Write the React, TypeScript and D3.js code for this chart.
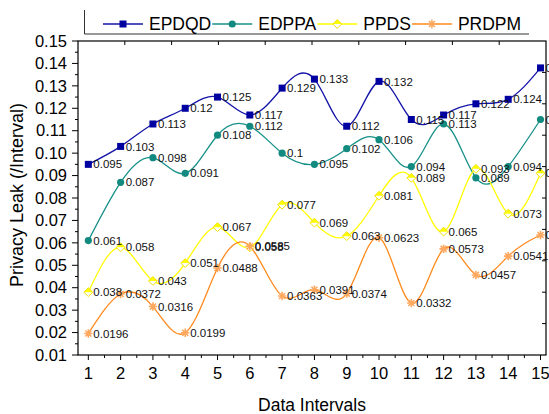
import { useEffect, useRef } from "react";
import * as d3 from "d3";

const intervals = [1, 2, 3, 4, 5, 6, 7, 8, 9, 10, 11, 12, 13, 14, 15];
const epdqd = [0.095, 0.103, 0.113, 0.12, 0.125, 0.117, 0.129, 0.133, 0.112, 0.132, 0.115, 0.117, 0.122, 0.124, 0.138];
const edppa = [0.061, 0.087, 0.098, 0.091, 0.108, 0.112, 0.1, 0.095, 0.102, 0.106, 0.094, 0.113, 0.089, 0.094, 0.115];
const ppds = [0.038, 0.058, 0.043, 0.051, 0.067, 0.058, 0.077, 0.069, 0.063, 0.081, 0.089, 0.065, 0.093, 0.073, 0.091];
const prdpm = [0.0196, 0.0372, 0.0316, 0.0199, 0.0488, 0.0585, 0.0363, 0.0391, 0.0374, 0.0623, 0.0332, 0.0573, 0.0457, 0.0541, 0.0635];
const seriesNames = ["EPDQD", "EDPPA", "PPDS", "PRDPM"];

const FONT = "Arial, 'Liberation Sans', sans-serif";

const series = [
  { name: seriesNames[0], values: epdqd, color: "#1414a8", fill: "#0000a0", shape: "square" },
  { name: seriesNames[1], values: edppa, color: "#179088", fill: "#138a80", shape: "circle" },
  { name: seriesNames[2], values: ppds, color: "#ffff00", fill: "#ffff00", shape: "diamond" },
  { name: seriesNames[3], values: prdpm, color: "#ff8a1c", fill: "#ffa860", shape: "star" },
];

const W = 549;
const H = 414;

function drawMarker(g: any, shape: string, cx: number, cy: number, fill: string) {
  if (shape === "square") {
    g.append("rect").attr("x", cx - 3.5).attr("y", cy - 3.5).attr("width", 7).attr("height", 7).attr("fill", fill);
  } else if (shape === "circle") {
    g.append("circle").attr("cx", cx).attr("cy", cy).attr("r", 3.6).attr("fill", fill);
  } else if (shape === "diamond") {
    const s = 4.4;
    g.append("path")
      .attr("d", `M${cx - s},${cy}L${cx},${cy - s}L${cx + s},${cy}L${cx},${cy + s}Z`)
      .attr("fill", "#fff");
    g.append("path")
      .attr("d", `M${cx - s},${cy}L${cx},${cy - s}L${cx + s},${cy}Z`)
      .attr("fill", fill);
    g.append("path")
      .attr("d", `M${cx - s},${cy}L${cx},${cy - s}L${cx + s},${cy}L${cx},${cy + s}Z`)
      .attr("fill", "none")
      .attr("stroke", "#f0e000")
      .attr("stroke-width", 1);
  } else {
    const s = 4.2;
    const d = s * 0.72;
    g.append("path")
      .attr("d", `M${cx - s},${cy}L${cx + s},${cy}M${cx},${cy - s}L${cx},${cy + s}M${cx - d},${cy - d}L${cx + d},${cy + d}M${cx - d},${cy + d}L${cx + d},${cy - d}`)
      .attr("stroke", fill)
      .attr("stroke-width", 1.6);
  }
}

export default function App() {
  const svgRef = useRef<SVGSVGElement>(null);

  useEffect(() => {
    const svg = d3.select(svgRef.current);
    svg.selectAll("*").remove();

    const left = 78;
    const right = 546;
    const top = 41;
    const bottom = 355;

    const x = d3.scaleLinear().domain([0.68, 15.17]).range([left, right]);
    const y = d3.scaleLinear().domain([0.01, 0.15]).range([bottom, top]);

    // frame
    svg.append("rect")
      .attr("x", left).attr("y", top)
      .attr("width", right - left).attr("height", bottom - top)
      .attr("fill", "none").attr("stroke", "#000").attr("stroke-width", 1.2);

    // y axis ticks
    const yMajor = y.ticks(14);
    const yMinor = y.ticks(28).filter((t) => !yMajor.some((m) => Math.abs(m - t) < 1e-9));
    const yAxis = svg.append("g");
    yMajor.forEach((t) => {
      yAxis.append("line").attr("x1", left - 6).attr("x2", left).attr("y1", y(t)).attr("y2", y(t)).attr("stroke", "#000");
      yAxis.append("text")
        .attr("x", left - 11).attr("y", y(t)).attr("dy", "0.35em")
        .attr("text-anchor", "end").attr("font-family", FONT).attr("font-size", 16.5)
        .text(d3.format(".2f")(t));
    });
    yMinor.forEach((t) => {
      yAxis.append("line").attr("x1", left - 3).attr("x2", left).attr("y1", y(t)).attr("y2", y(t)).attr("stroke", "#000");
    });

    // x axis ticks
    const xAxis = svg.append("g");
    intervals.forEach((t) => {
      xAxis.append("line").attr("x1", x(t)).attr("x2", x(t)).attr("y1", bottom).attr("y2", bottom + 5).attr("stroke", "#000");
      xAxis.append("text")
        .attr("x", x(t)).attr("y", bottom + 24)
        .attr("text-anchor", "middle").attr("font-family", FONT).attr("font-size", 16.5)
        .text(t);
    });
    d3.range(1.5, 15, 1).forEach((t) => {
      xAxis.append("line").attr("x1", x(t)).attr("x2", x(t)).attr("y1", bottom).attr("y2", bottom + 3).attr("stroke", "#000");
    });

    // top and right frame ticks
    const fr = d3.scaleLinear().domain([0, 10]);
    d3.range(1, 10).forEach((i) => {
      const tx = fr.range([left, right])(i);
      svg.append("line").attr("x1", tx).attr("x2", tx).attr("y1", top).attr("y2", top + 4).attr("stroke", "#000");
      const ty = fr.range([top, bottom])(i);
      svg.append("line").attr("x1", right - 4).attr("x2", right).attr("y1", ty).attr("y2", ty).attr("stroke", "#000");
    });

    // axis titles
    svg.append("text")
      .attr("x", (left + right) / 2).attr("y", 411)
      .attr("text-anchor", "middle").attr("font-family", FONT).attr("font-size", 17.5)
      .text("Data Intervals");
    svg.append("text")
      .attr("transform", `translate(23,${(top + bottom) / 2 - 3}) rotate(-90)`)
      .attr("text-anchor", "middle").attr("font-family", FONT).attr("font-size", 18)
      .text("Privacy Leak (/Interval)");

    // lines
    const line = d3.line<number>()
      .x((_, i) => x(intervals[i]))
      .y((d) => y(d))
      .curve(d3.curveNatural);

    const plot = svg.append("g");
    series.forEach((s) => {
      plot.append("path")
        .attr("d", line(s.values))
        .attr("fill", "none")
        .attr("stroke", s.color)
        .attr("stroke-width", 1.3);
    });
    series.forEach((s) => {
      const g = plot.append("g");
      s.values.forEach((v, i) => drawMarker(g, s.shape, x(intervals[i]), y(v), s.fill));
    });
    series.forEach((s) => {
      s.values.forEach((v, i) => {
        plot.append("text")
          .attr("x", x(intervals[i]) + 5).attr("y", y(v)).attr("dy", "0.36em")
          .attr("font-family", FONT).attr("font-size", 11.5).attr("fill", "#111")
          .text(String(v));
      });
    });

    // legend
    const leg = svg.append("g");
    leg.append("line").attr("x1", 84.5).attr("x2", 84.5).attr("y1", 10).attr("y2", 34).attr("stroke", "#333");
    leg.append("line").attr("x1", 84.5).attr("x2", 529).attr("y1", 34).attr("y2", 34).attr("stroke", "#333");
    let lx = 103;
    const ly = 24;
    series.forEach((s) => {
      leg.append("line").attr("x1", lx).attr("x2", lx + 40).attr("y1", ly).attr("y2", ly)
        .attr("stroke", s.color).attr("stroke-width", 1.3);
      drawMarker(leg, s.shape, lx + 20, ly, s.fill);
      const t = leg.append("text")
        .attr("x", lx + 46).attr("y", ly).attr("dy", "0.36em")
        .attr("font-family", FONT).attr("font-size", 17.5)
        .text(s.name);
      const node = t.node() as SVGTextElement;
      lx = lx + 46 + node.getComputedTextLength() + 1;
    });
  }, []);

  return (
    <svg
      ref={svgRef}
      width={W}
      height={H}
      style={{ position: "absolute", left: 0, top: 0, background: "#fff" }}
    />
  );
}
